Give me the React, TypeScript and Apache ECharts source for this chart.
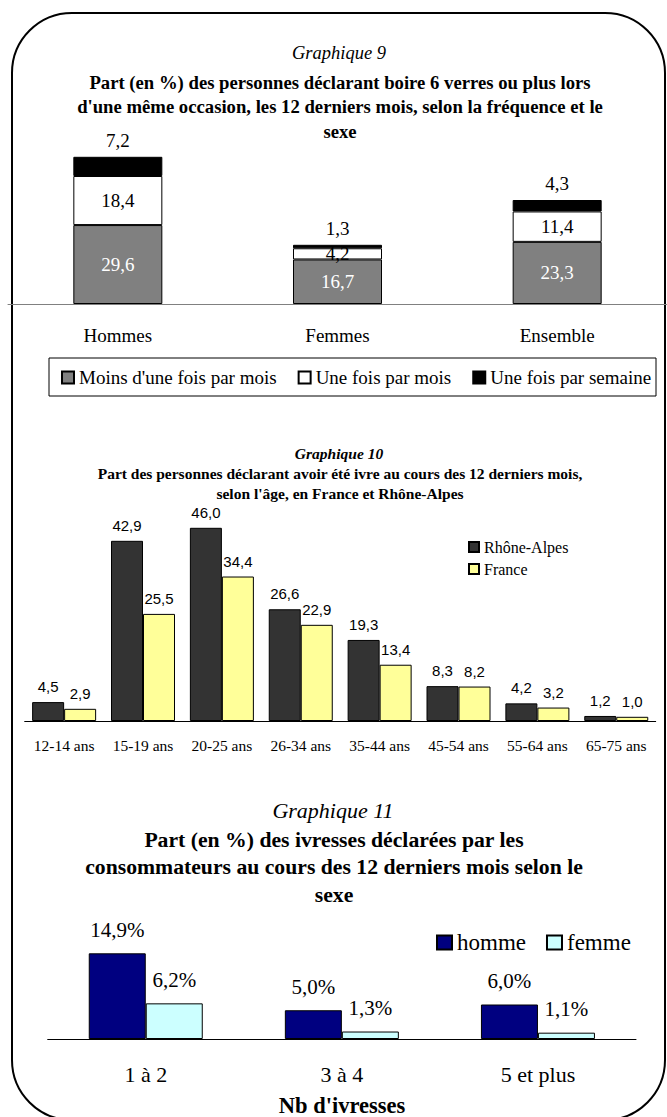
import React, { useEffect, useRef } from "react";
import * as echarts from "echarts";

const g9Categories = ["Hommes", "Femmes", "Ensemble"];
const g9Moins = [29.6, 16.7, 23.3];
const g9UneMois = [18.4, 4.2, 11.4];
const g9UneSemaine = [7.2, 1.3, 4.3];
const g9Names = ["Moins d'une fois par mois", "Une fois par mois", "Une fois par semaine"];

const g10Categories = ["12-14 ans", "15-19 ans", "20-25 ans", "26-34 ans", "35-44 ans", "45-54 ans", "55-64 ans", "65-75 ans"];
const g10RhoneAlpes = [4.5, 42.9, 46.0, 26.6, 19.3, 8.3, 4.2, 1.2];
const g10France = [2.9, 25.5, 34.4, 22.9, 13.4, 8.2, 3.2, 1.0];
const g10Names = ["Rhône-Alpes", "France"];

const g11Categories = ["1 à 2", "3 à 4", "5 et plus"];
const g11Homme = [14.9, 5.0, 6.0];
const g11Femme = [6.2, 1.3, 1.1];
const g11Names = ["homme", "femme"];

const SERIF = "Liberation Serif";
const SANS = "Liberation Sans";

const fmt = (v: number) => v.toFixed(1).replace(".", ",");

function txt(text: string, x: number, y: number, size: number, weight: string, style: string) {
  return {
    type: "text",
    x,
    y,
    silent: true,
    style: {
      text,
      fill: "#000",
      align: "center",
      verticalAlign: "middle",
      font: `${style} ${weight} ${size}px "Liberation Serif"`,
    },
  };
}

export default function App() {
  const ref = useRef<HTMLDivElement>(null);
  useEffect(() => {
    document.body.style.margin = "0";
    if (!ref.current) return;
    const chart = echarts.init(ref.current, undefined, { renderer: "svg" });
    const option: any = {
      animation: false,
      backgroundColor: "#fff",
      grid: [
        { left: 8, top: 144, width: 666, height: 160 },
        { left: 24.7, top: 511, width: 631, height: 210 },
        { left: 47.7, top: 924, width: 588.3, height: 115 },
      ],
      xAxis: [
        {
          gridIndex: 0,
          type: "category",
          data: g9Categories,
          axisLine: { lineStyle: { color: "#808080", width: 1 } },
          axisTick: { length: 7, lineStyle: { color: "#808080" } },
          axisLabel: { margin: 22, fontSize: 19, fontFamily: SERIF, color: "#000" },
        },
        {
          gridIndex: 1,
          type: "category",
          data: g10Categories,
          axisLine: { lineStyle: { color: "#000", width: 1 } },
          axisTick: { length: 6, lineStyle: { color: "#000" } },
          axisLabel: { margin: 16, fontSize: 15.5, fontFamily: SERIF, color: "#000", interval: 0 },
        },
        {
          gridIndex: 2,
          type: "category",
          data: g11Categories,
          axisLine: { lineStyle: { color: "#000", width: 1 } },
          axisTick: { length: 7, lineStyle: { color: "#000" } },
          axisLabel: { margin: 24, fontSize: 22, fontFamily: SERIF, color: "#000" },
        },
      ],
      yAxis: [
        { gridIndex: 0, type: "value", min: 0, max: 60, show: false },
        { gridIndex: 1, type: "value", min: 0, max: 50, show: false },
        { gridIndex: 2, type: "value", min: 0, max: 20, show: false },
      ],
      legend: [
        {
          data: g9Names,
          left: 61,
          top: 368,
          padding: 0,
          itemWidth: 12,
          itemHeight: 12,
          itemGap: 21,
          icon: "rect",
          textStyle: { fontSize: 19, fontFamily: SERIF, color: "#000" },
        },
        {
          data: g10Names,
          orient: "vertical",
          left: 468,
          top: 539,
          padding: 0,
          itemWidth: 10,
          itemHeight: 10,
          itemGap: 6,
          icon: "rect",
          textStyle: { fontSize: 16, fontFamily: SERIF, color: "#000" },
        },
        {
          data: g11Names,
          left: 436,
          top: 931,
          padding: 0,
          itemWidth: 15,
          itemHeight: 14,
          itemGap: 20,
          icon: "rect",
          textStyle: { fontSize: 23, fontFamily: SERIF, color: "#000" },
        },
      ],
      series: [
        {
          name: g9Names[0],
          type: "bar",
          xAxisIndex: 0,
          yAxisIndex: 0,
          stack: "g9",
          barWidth: 89,
          data: g9Moins,
          itemStyle: { color: "#808080", borderColor: "#000", borderWidth: 1 },
          label: { show: true, position: "inside", color: "#fff", fontSize: 19, fontFamily: SERIF, formatter: (p: any) => fmt(p.value) },
        },
        {
          name: g9Names[1],
          type: "bar",
          xAxisIndex: 0,
          yAxisIndex: 0,
          stack: "g9",
          barWidth: 89,
          data: g9UneMois,
          itemStyle: { color: "#fff", borderColor: "#000", borderWidth: 1 },
          label: { show: true, position: "inside", color: "#000", fontSize: 19, fontFamily: SERIF, formatter: (p: any) => fmt(p.value) },
        },
        {
          name: g9Names[2],
          type: "bar",
          xAxisIndex: 0,
          yAxisIndex: 0,
          stack: "g9",
          barWidth: 89,
          data: g9UneSemaine,
          itemStyle: { color: "#000", borderColor: "#000", borderWidth: 1 },
          label: { show: true, position: "top", distance: 7, color: "#000", fontSize: 19, fontFamily: SERIF, formatter: (p: any) => fmt(p.value) },
        },
        {
          name: g10Names[0],
          type: "bar",
          xAxisIndex: 1,
          yAxisIndex: 1,
          barWidth: 32,
          barGap: "0%",
          data: g10RhoneAlpes,
          itemStyle: { color: "#333333", borderColor: "#000", borderWidth: 1 },
          label: { show: true, position: "top", distance: 8, color: "#000", fontSize: 15, fontFamily: SANS, formatter: (p: any) => fmt(p.value) },
        },
        {
          name: g10Names[1],
          type: "bar",
          xAxisIndex: 1,
          yAxisIndex: 1,
          barWidth: 32,
          barGap: "0%",
          data: g10France,
          itemStyle: { color: "#FFFF99", borderColor: "#000", borderWidth: 1 },
          label: { show: true, position: "top", distance: 8, color: "#000", fontSize: 15, fontFamily: SANS, formatter: (p: any) => fmt(p.value) },
        },
        {
          name: g11Names[0],
          type: "bar",
          xAxisIndex: 2,
          yAxisIndex: 2,
          barWidth: 57,
          barGap: "0%",
          data: g11Homme,
          itemStyle: { color: "#000080", borderColor: "#000", borderWidth: 1 },
          label: { show: true, position: "top", distance: 13, color: "#000", fontSize: 21, fontFamily: SERIF, formatter: (p: any) => fmt(p.value) + "%" },
        },
        {
          name: g11Names[1],
          type: "bar",
          xAxisIndex: 2,
          yAxisIndex: 2,
          barWidth: 57,
          barGap: "0%",
          data: g11Femme,
          itemStyle: { color: "#CCFFFF", borderColor: "#000", borderWidth: 1 },
          label: { show: true, position: "top", distance: 13, color: "#000", fontSize: 21, fontFamily: SERIF, formatter: (p: any) => fmt(p.value) + "%" },
        },
      ],
      graphic: [
        {
          type: "rect",
          silent: true,
          shape: { x: 12, y: 13, width: 653, height: 1107, r: 60 },
          style: { fill: "none", stroke: "#000", lineWidth: 2 },
        },
        {
          type: "rect",
          silent: true,
          shape: { x: 49, y: 358, width: 607, height: 38 },
          style: { fill: "none", stroke: "#000", lineWidth: 1 },
        },
        txt("Graphique 9", 339, 53, 18.5, "normal", "italic"),
        txt("Part (en %) des personnes déclarant boire 6 verres ou plus lors", 340, 82, 18.7, "bold", "normal"),
        txt("d'une même occasion, les 12 derniers mois, selon la fréquence et le", 340, 106.5, 18.7, "bold", "normal"),
        txt("sexe", 340, 131, 18.7, "bold", "normal"),
        txt("Graphique 10", 339, 453, 15.5, "bold", "italic"),
        txt("Part des personnes déclarant avoir été ivre au cours des 12 derniers mois,", 340, 473, 15.5, "bold", "normal"),
        txt("selon l'âge, en France et Rhône-Alpes", 340, 493, 15.5, "bold", "normal"),
        txt("Graphique 11", 333, 810, 22, "normal", "italic"),
        txt("Part (en %) des ivresses déclarées par les", 334, 840, 21.7, "bold", "normal"),
        txt("consommateurs au cours des 12 derniers mois selon le", 334, 867, 21.7, "bold", "normal"),
        txt("sexe", 334, 895, 21.7, "bold", "normal"),
        txt("Nb d'ivresses", 342, 1105, 22.5, "bold", "normal"),
      ],
    };
    chart.setOption(option);
    return () => chart.dispose();
  }, []);
  return <div ref={ref} style={{ width: 667, height: 1117 }} />;
}
